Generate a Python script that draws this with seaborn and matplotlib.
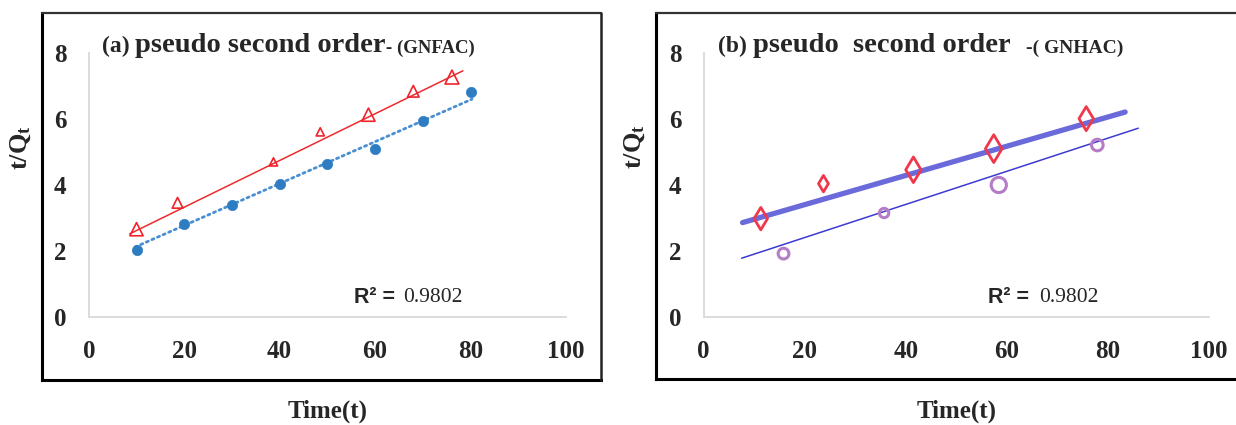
import matplotlib
matplotlib.use("Agg")
import matplotlib.pyplot as plt
import seaborn as sns
import pandas as pd
from matplotlib.lines import Line2D

# ---------------- data ----------------
a_time_blue = [10, 20, 30, 40, 50, 60, 70, 80]
a_blue = [2.03, 2.84, 3.39, 4.05, 4.64, 5.11, 5.95, 6.82]
a_time_red = [10, 18.6, 38.7, 48.5, 58.6, 68, 76.1]
a_red = [2.67, 3.47, 4.71, 5.62, 6.14, 6.85, 7.28]
a_red_fit_t = [8.6, 78.4]
a_red_fit = [2.53, 7.47]
a_blue_fit_t = [9.7, 80.3]
a_blue_fit = [2.13, 6.61]

b_time_red = [11.3, 23.7, 41.5, 57.4, 75.7]
b_red = [2.99, 4.05, 4.47, 5.11, 6.02]
b_time_purple = [15.8, 35.7, 58.4, 77.9]
b_purple = [1.93, 3.16, 4.01, 5.22]
b_thick_fit_t = [7.7, 83.4]
b_thick_fit = [2.87, 6.22]
b_thin_fit_t = [7.5, 86.0]
b_thin_fit = [1.79, 5.73]

x_ticks = [0, 20, 40, 60, 80, 100]
y_ticks = [0, 2, 4, 6, 8]
r2_text = "0.9802"

# ---------------- style ----------------
sns.set_theme(style="white")
plt.rcParams["font.family"] = ["Liberation Serif", "DejaVu Serif"]
plt.rcParams["mathtext.fontset"] = "custom"
plt.rcParams["mathtext.rm"] = "Liberation Serif"
plt.rcParams["mathtext.bf"] = "Liberation Serif:bold"
plt.rcParams["mathtext.it"] = "Liberation Serif:italic"

W, H = 1236, 425
fig = plt.figure(figsize=(W / 100, H / 100), dpi=100)
fig.patch.set_facecolor("white")


def fx(x):
    return x / W


def fy(y):
    return 1 - y / H


# axes placement (pixels): y=0 at 317.3, y=8 at 53.3
ax_a = fig.add_axes([fx(88.8), fy(317.3), (566 - 88.8) / W, (317.3 - 53.3) / H])
ax_b = fig.add_axes([fx(703.7), fy(317.3), (1209 - 703.7) / W, (317.3 - 53.3) / H])

# ---------------- panel (a) ----------------
sns.lineplot(x=a_blue_fit_t, y=a_blue_fit, ax=ax_a, color="#4A8FD2", lw=2.0,
             linestyle=(0, (0.8, 1.4)), dash_capstyle="round", zorder=2)
sns.lineplot(x=a_red_fit_t, y=a_red_fit, ax=ax_a, color="#EE2A2E", lw=1.1, zorder=2)
sns.scatterplot(x=a_time_blue, y=a_blue, ax=ax_a, color="#2E7DC2", s=55,
                edgecolor="#2E7DC2", linewidth=0.5, zorder=3)
sns.scatterplot(x=a_time_red, y=a_red, ax=ax_a, marker="^", facecolor="none",
                edgecolor="#F0222A", linewidth=1.2, s=[90, 60, 35, 35, 90, 70, 100],
                zorder=3)

# ---------------- panel (b) ----------------
sns.lineplot(x=b_thick_fit_t, y=b_thick_fit, ax=ax_b, color="#6A6ADB", lw=3.8,
             solid_capstyle="round", zorder=2)
sns.lineplot(x=b_thin_fit_t, y=b_thin_fit, ax=ax_b, color="#3B3BD2", lw=1.1, zorder=2)
sns.scatterplot(x=b_time_red, y=b_red, ax=ax_b, marker="d", facecolor="none",
                edgecolor="#F0384C", linewidth=2.0, s=[130, 70, 170, 200, 150],
                zorder=3)
sns.scatterplot(x=b_time_purple, y=b_purple, ax=ax_b, marker="o", facecolor="none",
                edgecolor="#B57CC8", linewidth=2.2, s=[60, 45, 120, 70], zorder=3)

for ax in (ax_a, ax_b):
    ax.set_xlim(0, 100)
    ax.set_ylim(0, 8)
    ax.set_xticks(x_ticks)
    ax.set_yticks(y_ticks)
    ax.set_xticklabels([str(v) for v in x_ticks], fontsize=18, fontweight="bold")
    ax.set_yticklabels([str(v) for v in y_ticks], fontsize=18, fontweight="bold")
    ax.tick_params(axis="x", length=0, pad=16)
    ax.tick_params(axis="y", length=0, pad=16)
    for s in ("top", "right"):
        ax.spines[s].set_visible(False)
    for s in ("left", "bottom"):
        ax.spines[s].set_color("#D9D9D9")
        ax.spines[s].set_linewidth(1.3)
    ax.set_facecolor("white")
    ax.patch.set_alpha(0)
    ax.set_xlabel("Time(t)", fontsize=18, fontweight="bold")
    ax.xaxis.label.set_va("baseline")
    ax.xaxis.set_label_coords(0.5, (317.3 - 418) / 264)
    ax.set_ylabel(r"$\mathbf{t/Q_t}$", fontsize=19, rotation=90)
    ax.yaxis.label.set_va("center")
    ax.yaxis.label.set_ha("center")

ax_a.yaxis.set_label_coords((21 - 88.8) / 477.2, (317.3 - 148) / 264)
ax_b.yaxis.set_label_coords((635 - 703.7) / 505.3, (317.3 - 147) / 264)

# ---------------- titles ----------------
fig.text(fx(101.7), fy(51.7), "(a)", fontsize=17, fontweight="bold", va="baseline")
fig.text(fx(135), fy(51.7), "pseudo second order", fontsize=20.5, fontweight="bold",
         va="baseline")
fig.text(fx(386), fy(52.5), "- (GNFAC)", fontsize=13.5, fontweight="bold", va="baseline")

fig.text(fx(718.3), fy(51.7), "(b)", fontsize=17, fontweight="bold", va="baseline")
fig.text(fx(753.3), fy(51.7), "pseudo  second order", fontsize=20.5, fontweight="bold",
         va="baseline")
fig.text(fx(1026), fy(52.5), "-( GNHAC)", fontsize=14, fontweight="bold", va="baseline")

# ---------------- R² annotations ----------------
for rx, nx in ((354, 403), (987.5, 1039)):
    fig.text(fx(rx), fy(303), "R² =", fontsize=15.5, fontweight="bold",
             family=["Liberation Sans", "DejaVu Sans"], va="baseline")
    fig.text(fx(nx), fy(302), r2_text, fontsize=15.5, va="baseline")

# ---------------- panel frames ----------------
def frame(x0, y0, x1, y1):
    kw = dict(transform=fig.transFigure, color="black", solid_capstyle="projecting")
    fig.add_artist(Line2D([fx(x0), fx(x0)], [fy(y0), fy(y1)], lw=2.2, **kw))
    fig.add_artist(Line2D([fx(x0), fx(x1)], [fy(y1), fy(y1)], lw=2.2, **kw))
    fig.add_artist(Line2D([fx(x0), fx(x1)], [fy(y0), fy(y0)], lw=1.6,
                          transform=fig.transFigure, color="#333333"))
    fig.add_artist(Line2D([fx(x1), fx(x1)], [fy(y0), fy(y1)], lw=1.8,
                          transform=fig.transFigure, color="#222222"))

frame(42, 13, 601, 380)
frame(656, 13, 1240, 379)

fig.savefig("out.png", dpi=100, facecolor="white")
